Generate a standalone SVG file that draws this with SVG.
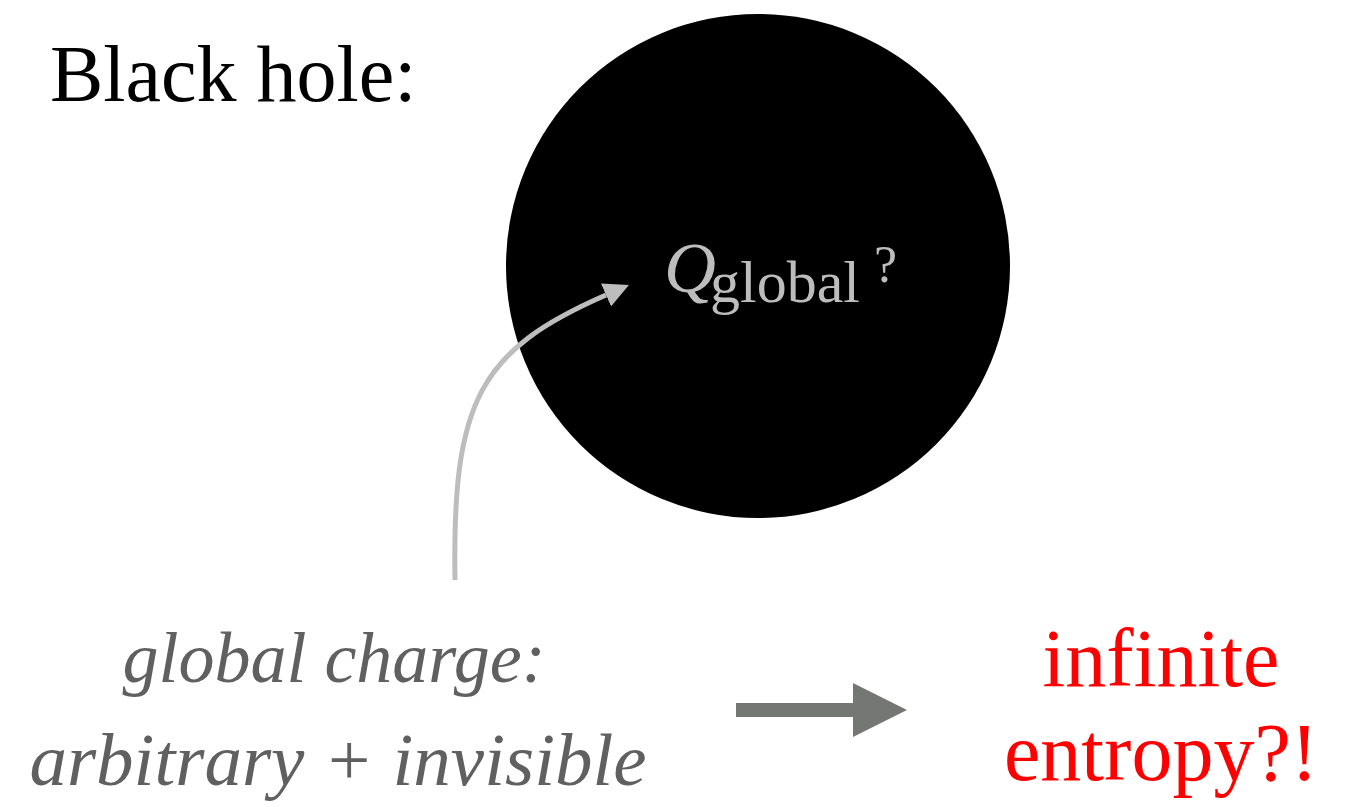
<svg xmlns="http://www.w3.org/2000/svg" width="1351" height="807" viewBox="0 0 1351 807">
  <style>
    .serif { font-family: "Liberation Serif", "DejaVu Serif", serif; }
    .title { font-size: 80px; fill: #000000; }
    .qlabel { fill: #bcbdbc; }
    .note { font-style: italic; fill: #606060; }
    .result { font-size: 82px; fill: #ff0000; }
    .curve { fill: none; stroke: #bcbdbc; stroke-width: 5; }
  </style>
  <defs>
    <marker id="headLight" markerUnits="userSpaceOnUse" markerWidth="30" markerHeight="30" refX="0" refY="12.5" orient="auto">
      <path d="M0,0 L25,12.5 L0,25 z" fill="#bcbdbc"/>
    </marker>
  </defs>
  <rect width="1351" height="807" fill="#ffffff"/>

  <g id="title">
    <text class="serif title" x="50" y="101">Black hole:</text>
  </g>

  <g id="black-hole">
    <circle cx="758" cy="266" r="252" fill="#000000"/>
    <text class="serif qlabel" y="292"><tspan x="664" font-size="72" font-style="italic">Q</tspan><tspan x="710" y="302" font-size="60">global</tspan></text>
    <text class="serif qlabel" x="874" y="282" font-size="52">?</text>
  </g>

  <g id="global-charge">
    <text class="serif note" x="334" y="682" text-anchor="middle" font-size="72">global charge:</text>
    <text class="serif note" x="338" y="785" text-anchor="middle" font-size="75">arbitrary + invisible</text>
  </g>

  <g id="infinite-entropy">
    <text class="serif result" x="1161" y="686" text-anchor="middle">infinite</text>
    <text class="serif result" x="1161" y="780" text-anchor="middle">entropy?!</text>
  </g>

  <g id="connectors">
    <path class="curve" d="M455,580 C452,400 480,350 606,295" marker-end="url(#headLight)"/>
    <polygon points="736,703 853,703 853,683 907,710 853,737 853,717 736,717" fill="#757775"/>
  </g>
</svg>
